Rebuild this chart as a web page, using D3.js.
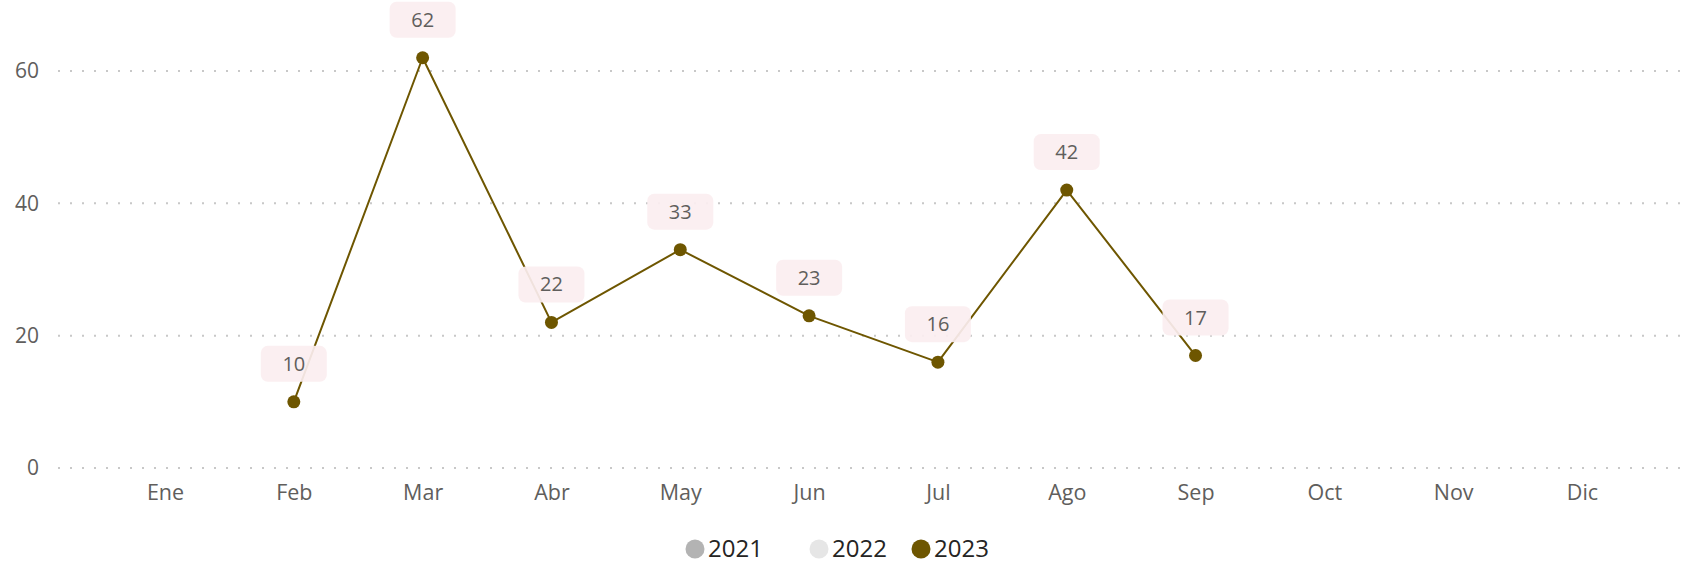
<!DOCTYPE html>
<html>
<head>
<meta charset="utf-8">
<script src="https://cdn.jsdelivr.net/npm/d3@7"></script>
<style>
  body { margin: 0; background: #fff; }
  svg { display: block; font-family: "Segoe UI", "Open Sans", sans-serif; }
</style>
</head>
<body>
<script>
var months = ["Ene", "Feb", "Mar", "Abr", "May", "Jun", "Jul", "Ago", "Sep", "Oct", "Nov", "Dic"];
var years = ["2021", "2022", "2023"];
var yearColors = ["#B3B3B3", "#E6E6E6", "#6E5600"];
var monthsWith2023 = ["Feb", "Mar", "Abr", "May", "Jun", "Jul", "Ago", "Sep"];
var values2023 = [10, 62, 22, 33, 23, 16, 42, 17];
var yTicks = [0, 20, 40, 60];

var svg = d3.select("body").append("svg")
    .attr("width", 1692)
    .attr("height", 566);

var x = d3.scalePoint()
    .domain(months)
    .range([165, 1582]);

var y = d3.scaleLinear()
    .domain([0, 60])
    .range([468, 71]);

// dotted grid
svg.append("g")
  .selectAll("line")
    .data(yTicks)
  .enter().append("line")
    .attr("x1", 58)
    .attr("x2", 1684)
    .attr("y1", function(d) { return y(d); })
    .attr("y2", function(d) { return y(d); })
    .attr("stroke", "#C8C8C8")
    .attr("stroke-width", 2)
    .attr("stroke-dasharray", "2,10");

// y axis labels
var yAxis = d3.axisLeft(y).tickValues(yTicks).tickSize(0).tickPadding(0);
svg.append("g")
    .attr("transform", "translate(39,0)")
    .call(yAxis)
    .call(function(g) { g.select(".domain").remove(); })
    .selectAll("text")
    .attr("fill", "#605E5C")
    .attr("font-size", 21)
    .attr("font-family", "'Segoe UI', 'Open Sans', sans-serif");

// x axis labels
var xAxis = d3.axisBottom(x).tickSize(0).tickPadding(0);
svg.append("g")
    .attr("transform", "translate(0,485)")
    .call(xAxis)
    .call(function(g) { g.select(".domain").remove(); })
    .selectAll("text")
    .attr("fill", "#605E5C")
    .attr("font-size", 21.5)
    .attr("font-family", "'Segoe UI', 'Open Sans', sans-serif");

var data = monthsWith2023.map(function(m, i) { return {month: m, value: values2023[i]}; });

var line = d3.line()
    .x(function(d) { return x(d.month); })
    .y(function(d) { return y(d.value); });

svg.append("path")
    .datum(data)
    .attr("fill", "none")
    .attr("stroke", yearColors[2])
    .attr("stroke-width", 2)
    .attr("stroke-linejoin", "round")
    .attr("d", line);

// data label boxes
var labels = svg.append("g")
  .selectAll("g")
    .data(data)
  .enter().append("g")
    .attr("transform", function(d) { return "translate(" + x(d.month) + "," + (y(d.value) - 38) + ")"; });

labels.append("rect")
    .attr("x", -33)
    .attr("y", -18)
    .attr("width", 66)
    .attr("height", 36)
    .attr("rx", 7)
    .attr("fill", "#FBEEF0")
    .attr("fill-opacity", 0.92);

labels.append("text")
    .attr("text-anchor", "middle")
    .attr("dy", "0.35em")
    .attr("fill", "#605E5C")
    .attr("font-size", 20)
    .text(function(d) { return d.value; });

svg.append("g")
  .selectAll("circle")
    .data(data)
  .enter().append("circle")
    .attr("cx", function(d) { return x(d.month); })
    .attr("cy", function(d) { return y(d.value); })
    .attr("r", 6.5)
    .attr("fill", yearColors[2]);

// legend
var legendX = [695, 819, 921];
var legend = svg.append("g")
  .selectAll("g")
    .data(years)
  .enter().append("g")
    .attr("transform", function(d, i) { return "translate(" + legendX[i] + ",549)"; });

legend.append("circle")
    .attr("r", 9.5)
    .attr("fill", function(d, i) { return yearColors[i]; });

legend.append("text")
    .attr("x", 13)
    .attr("dy", "0.35em")
    .attr("fill", "#252423")
    .attr("font-size", 24)
    .text(function(d) { return d; });
</script>
</body>
</html>
